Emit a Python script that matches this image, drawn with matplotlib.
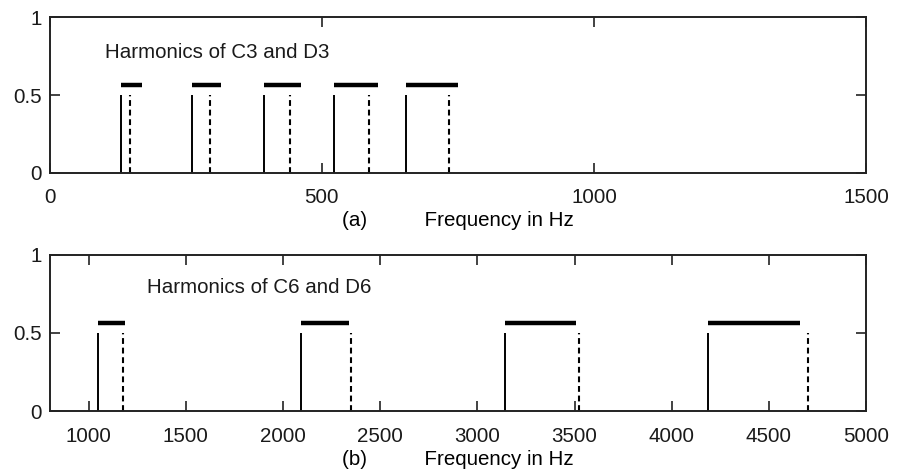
import matplotlib
matplotlib.use('Agg')
import matplotlib.pyplot as plt

plt.rcParams['font.family'] = ['Liberation Sans', 'DejaVu Sans']
plt.rcParams['font.size'] = 14.8
plt.rcParams['text.color'] = '#1a1a1a'
plt.rcParams['xtick.labelcolor'] = '#1a1a1a'
plt.rcParams['ytick.labelcolor'] = '#1a1a1a'

# (a) C3 / D3 の倍音 (Hz)
c3_harm = [131, 262, 393, 523, 654]
d3_harm = [147, 294, 441, 587, 734]
bar_a_start = [131, 262, 393, 522, 654]
bar_a_end = [170, 315, 462, 604, 751]

# (b) C6 / D6 の倍音 (Hz)
c6_harm = [1047, 2093, 3140, 4186]
d6_harm = [1175, 2349, 3524, 4699]
bar_b_start = [1047, 2093, 3140, 4186]
bar_b_end = [1186, 2342, 3506, 4659]

line_h = 0.5
bar_h = 0.566

fig = plt.figure(figsize=(9.01, 4.70), dpi=100)
ax1 = fig.add_axes([0.0552, 0.632, 0.906, 0.331])
ax2 = fig.add_axes([0.0552, 0.125, 0.906, 0.333])


def draw(ax, c, d, b0, b1):
    ax.vlines(c, 0, line_h, colors='black', linewidth=1.4)
    ax.vlines(d, 0, line_h, colors='black', linewidth=1.5,
              linestyles=(0, (2.8, 1.8)))
    ax.hlines([bar_h] * len(b0), b0, b1, colors='black', linewidth=3.2)
    ax.set_ylim(0, 1)
    ax.set_yticks([0, 0.5, 1])
    ax.set_yticklabels(['0', '0.5', '1'])
    ax.tick_params(direction='in', top=True, right=True, length=7,
                   width=1.2, color='#222222')
    ax.tick_params(axis='x', pad=11)
    ax.tick_params(axis='y', pad=6)
    for s in ax.spines.values():
        s.set_linewidth(1.4)
        s.set_color('#222222')


draw(ax1, c3_harm, d3_harm, bar_a_start, bar_a_end)
ax1.set_xlim(0, 1500)
ax1.set_xticks([0, 500, 1000, 1500])
ax1.set_xlabel('(a)          Frequency in Hz', labelpad=3)
ax1.text(0.068, 0.776, 'Harmonics of C3 and D3', transform=ax1.transAxes,
         va='center', ha='left')

draw(ax2, c6_harm, d6_harm, bar_b_start, bar_b_end)
ax2.set_xlim(800, 5000)
ax2.set_xticks([1000, 1500, 2000, 2500, 3000, 3500, 4000, 4500, 5000])
ax2.set_xlabel('(b)          Frequency in Hz', labelpad=3)
ax2.text(0.119, 0.79, 'Harmonics of C6 and D6', transform=ax2.transAxes,
         va='center', ha='left')

fig.savefig('out.png', dpi=100)
